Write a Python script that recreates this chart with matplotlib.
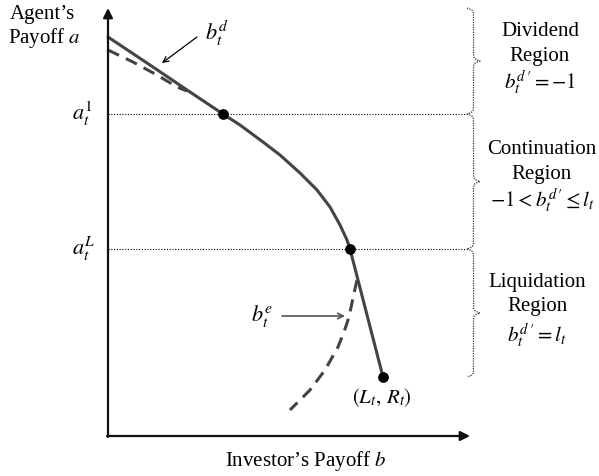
import numpy as np
import matplotlib
matplotlib.use('Agg')
import matplotlib.pyplot as plt

plt.rcParams['font.family'] = 'Liberation Serif'
plt.rcParams['mathtext.fontset'] = 'stix'

# curve points (pixel-like coordinates, y grows downwards)
solid_x = [108, 150, 190, 223, 240, 263, 280, 300, 317, 330, 340, 347, 350, 383]
solid_y = [37, 65, 92, 114, 125, 142, 155, 173, 190, 207, 225, 240, 249, 377]
dash_top_x = [108, 133, 157, 177, 187]
dash_top_y = [50, 62, 75, 87, 91]
dash_low_x = [357, 353, 349, 344, 338, 325, 310, 290]
dash_low_y = [280, 298, 317, 332, 347, 370, 390, 410]
dots_x = [223, 350, 383]
dots_y = [114, 249, 377]
levels = [114, 249]
regions = [(8, 114), (114, 249), (249, 377)]
region_names = [('Dividend', 'Region', r'$b_t^{d\,\prime} = -1$'),
                ('Continuation', 'Region', r'$-1 < b_t^{d\,\prime} \leq l_t$'),
                ('Liquidation', 'Region', r'$b_t^{d\,\prime} = l_t$')]
region_text_x = [540, 542, 537]
region_text_y = [(32, 56, 83), (150, 175, 201), (282, 306, 336)]

fig = plt.figure(figsize=(5.99, 4.76), dpi=100)
ax = fig.add_axes([0, 0, 1, 1])
ax.set_xlim(0, 599)
ax.set_ylim(476, 0)
ax.axis('off')

# axes with arrows
ax.annotate('', xy=(108, 8), xytext=(108, 437),
            arrowprops=dict(arrowstyle='-|>', color='#111111', lw=1.6,
                            mutation_scale=14, shrinkA=0, shrinkB=0))
ax.annotate('', xy=(470, 436), xytext=(107, 436),
            arrowprops=dict(arrowstyle='-|>', color='#111111', lw=1.6,
                            mutation_scale=14, shrinkA=0, shrinkB=0))

for lv in levels:
    ax.plot([108, 468], [lv, lv], color='black', lw=0.8, ls=(0, (1, 1.5)))


def brace(y0, y1, x0, w):
    n = 300
    span = y1 - y0
    beta = 0.9
    t = np.linspace(0, span / 2, n)
    h = 1 / (1 + np.exp(-beta * (t - t[0]))) + 1 / (1 + np.exp(-beta * (t - t[-1])))
    h = np.concatenate((h, h[-2::-1]))
    yy = y0 + np.concatenate((t, span - t[-2::-1]))
    xx = x0 + (h - 0.5) * w
    return xx, yy


for (y0, y1) in regions:
    bx, by = brace(y0, y1, 467, 13)
    ax.plot(bx, by, color='#333333', lw=0.9, ls=(0, (1, 1)))

ax.plot(solid_x, solid_y, color='#444444', lw=2.2, solid_capstyle='round',
        solid_joinstyle='round')
ax.plot(dash_top_x, dash_top_y, color='#444444', lw=2.2, ls=(0, (4, 2.5)))
ax.plot(dash_low_x, dash_low_y, color='#444444', lw=2.2, ls=(0, (4, 2.5)))
ax.scatter(dots_x, dots_y, s=45, color='black', zorder=5)

fs = 15
for names, tx, tys in zip(region_names, region_text_x, region_text_y):
    for s, ty in zip(names, tys):
        ax.text(tx, ty, s, ha='center', va='center', fontsize=fs)

ax.text(42, 14, 'Agent\u2019s', ha='center', va='center', fontsize=fs)
ax.text(44, 38, r'Payoff $a$', ha='center', va='center', fontsize=fs)
ax.text(306, 461, 'Investor\u2019s Payoff $b$', ha='center', va='center', fontsize=fs)
ax.text(82, 114, r'$a_t^1$', ha='center', va='center', fontsize=fs + 1)
ax.text(84, 249, r'$a_t^L$', ha='center', va='center', fontsize=fs + 1)
ax.text(382, 398, r'$(L_t,\, R_t)$', ha='center', va='center', fontsize=fs)
ax.text(217, 33, r'$b_t^d$', ha='center', va='center', fontsize=fs + 1)
ax.text(262, 316, r'$b_t^e$', ha='center', va='center', fontsize=fs + 1)

ax.annotate('', xy=(162, 63), xytext=(197, 37),
            arrowprops=dict(arrowstyle='->', color='black', lw=0.9,
                            shrinkA=0, shrinkB=0))
ax.annotate('', xy=(345, 316), xytext=(282, 316),
            arrowprops=dict(arrowstyle='->', color='#555555', lw=1.2,
                            shrinkA=0, shrinkB=0))

fig.savefig('out.png', dpi=100)
